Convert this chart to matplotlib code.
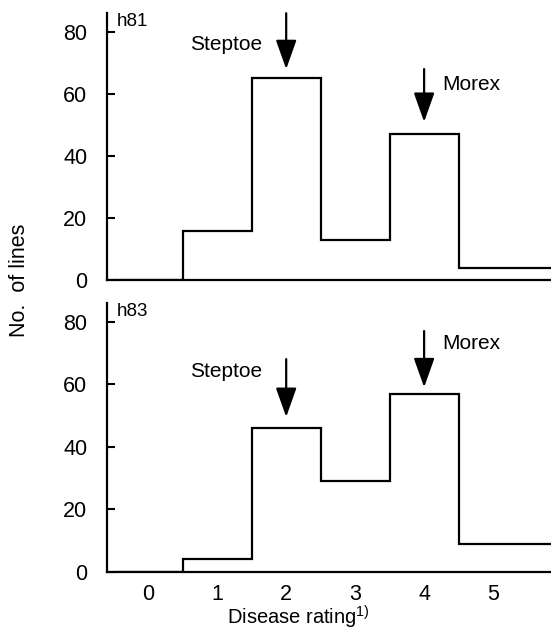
import numpy as np
import matplotlib
matplotlib.use("Agg")
import matplotlib.pyplot as plt

plt.rcParams['font.family'] = ['Liberation Sans', 'DejaVu Sans']
plt.rcParams['mathtext.fontset'] = 'custom'
plt.rcParams['mathtext.rm'] = 'Liberation Sans'

# disease rating classes and number of lines per class
ratings = np.array([0, 1, 2, 3, 4, 5])
h81 = [0, 16, 65, 13, 47, 4]
h83 = [0, 4, 46, 29, 57, 9]

panels = ['h81', 'h83']
counts = [h81, h83]

# parent ratings and arrow spans (start, tip) per panel
parents = ['Steptoe', 'Morex']
parent_rating = [2, 4]
arrow_start = [[86, 68], [68, 77]]
arrow_tip = [[68, 51], [49.5, 59]]
label_y = [[76, 63], [64, 73]]

xmin, xmax = -0.6, 5.84

fig = plt.figure(figsize=(5.51, 6.31), dpi=100)
ax_top = fig.add_axes([0.194, 0.556, 0.806, 0.423])
ax_bot = fig.add_axes([0.194, 0.094, 0.806, 0.426])

for k, ax in enumerate([ax_top, ax_bot]):
    edges = np.append(ratings - 0.5, xmax)
    ax.stairs(counts[k], edges, baseline=None, color='black', lw=1.6)
    ax.set_xlim(xmin, xmax)
    ax.set_ylim(0, 86)
    for s in ['top', 'right']:
        ax.spines[s].set_visible(False)
    for s in ['left', 'bottom']:
        ax.spines[s].set_linewidth(1.6)
    ax.set_yticks([0, 20, 40, 60, 80])
    ax.tick_params(axis='y', direction='in', length=6, width=1.5,
                   pad=14, labelsize=15.5)
    ax.set_xticks(ratings)
    ax.tick_params(axis='x', length=0, pad=9, labelsize=15.5)
    ax.text(0.022, 1.0, panels[k], transform=ax.transAxes,
            ha='left', va='top', fontsize=13.5)

    for j, name in enumerate(parents):
        x = parent_rating[j]
        ax.annotate('', xy=(x, arrow_tip[k][j]), xytext=(x, arrow_start[k][j]),
                    arrowprops=dict(arrowstyle='-|>,head_length=0.9,head_width=0.32',
                                    mutation_scale=20, color='black', lw=1.6,
                                    shrinkA=0, shrinkB=0))
        if j == 0:
            ax.text(x - 0.35, label_y[k][j], name, ha='right', va='center', fontsize=15)
        else:
            ax.text(x + 0.26, label_y[k][j], name, ha='left', va='center', fontsize=15)

ax_top.set_xticklabels([])
ax_bot.set_xlabel('Disease rating$^{1)}$', fontsize=14.5)
ax_bot.xaxis.set_label_coords(0.43, -0.118)

fig.text(0.036, 0.555, 'No.  of lines', rotation=90, ha='center', va='center',
         fontsize=15.5)

fig.savefig('out.png', dpi=100)
